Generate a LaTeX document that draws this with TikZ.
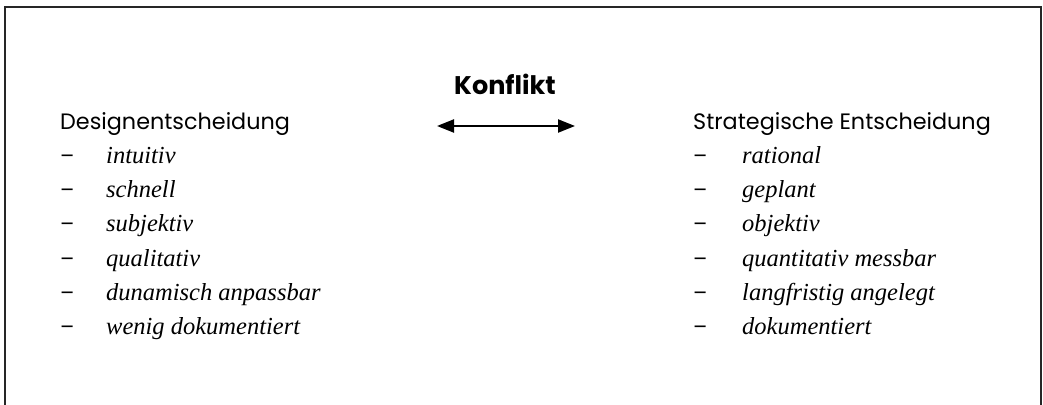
\documentclass[tikz,border=0pt]{standalone}
\usepackage{fontspec}
\setmainfont{Liberation Serif}
\newfontfamily\headfont{Poppins}
\usetikzlibrary{arrows.meta}
\tikzset{
  head/.style={anchor=base west, inner sep=0pt, font=\headfont\fontsize{22.3}{26}\selectfont},
  itemdash/.style={anchor=base west, inner sep=0pt, font=\headfont\fontsize{21}{24}\selectfont},
  itemtext/.style={anchor=base west, inner sep=0pt, font=\itshape\fontsize{24.5}{28}\selectfont},
  konf/.style={anchor=base, inner sep=0pt, font=\headfont\bfseries\fontsize{25.5}{29}\selectfont},
  frameline/.style={line width=1.3pt, draw=black!85},
  conn/.style={line width=2.2pt, {Triangle[length=17pt,width=13pt]}-{Triangle[length=17pt,width=13pt]}}
}
\begin{document}
\begin{tikzpicture}[x=1pt,y=-1pt]
\useasboundingbox (0,0) rectangle (1043,404);
\draw[frameline] (5,406) -- (5,7) -- (1041,7) -- (1041,406);
\node[konf] (k) at (505,94) {Konflikt};
\coordinate (al) at (437,126);
\coordinate (ar) at (575,126);
\draw[conn] (al) -- (ar);
% left column
\node[head] (lh) at (60,129) {Designentscheidung};
\foreach \t [count=\i] in {intuitiv,schnell,subjektiv,qualitativ,dunamisch anpassbar,wenig dokumentiert}{
  \node[itemdash] (ld\i) at (60,{129+34.3*\i}) {–};
  \node[itemtext] (lt\i) at (106,{129+34.3*\i}) {\t};
}
% right column
\node[head] (rh) at (693,129) {Strategische Entscheidung};
\foreach \t [count=\i] in {rational,geplant,objektiv,quantitativ messbar,langfristig angelegt,dokumentiert}{
  \node[itemdash] (rd\i) at (693,{129+34.3*\i}) {–};
  \node[itemtext] (rt\i) at (742,{129+34.3*\i}) {\t};
}
\end{tikzpicture}
\end{document}
